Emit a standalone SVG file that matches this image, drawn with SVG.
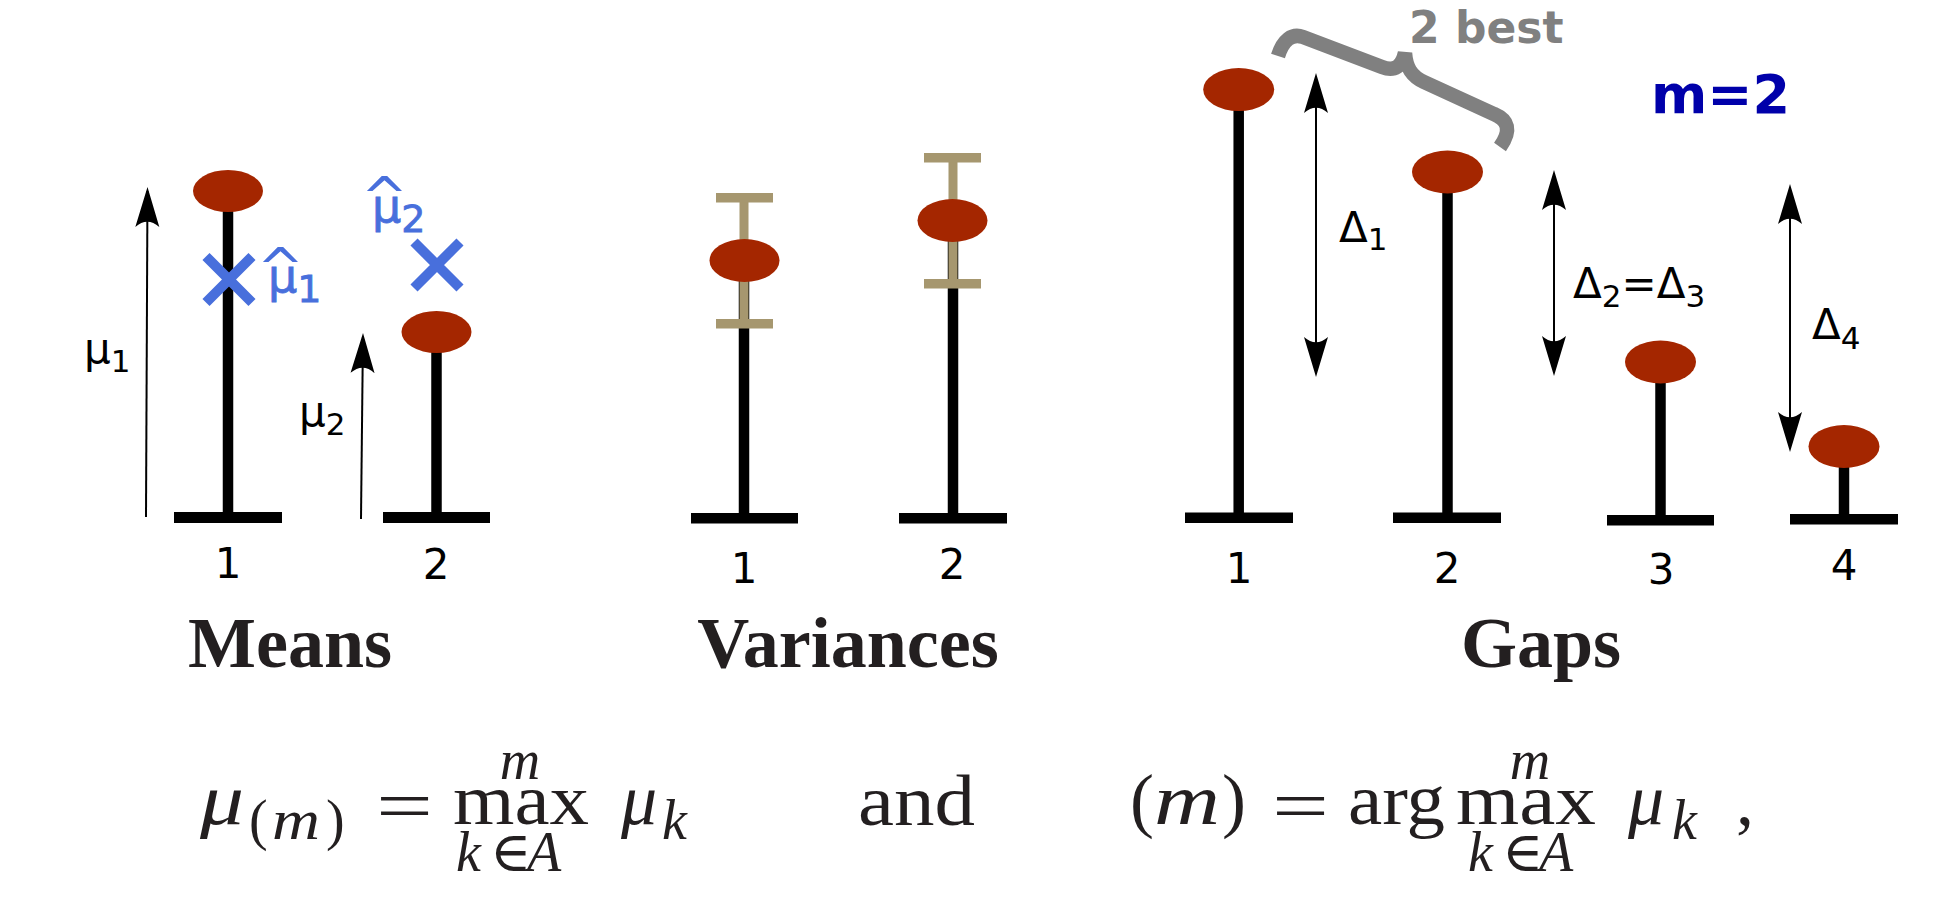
<svg xmlns="http://www.w3.org/2000/svg" width="1938" height="897" viewBox="0 0 1938 897">
<defs>
<marker id="ah" markerUnits="userSpaceOnUse" markerWidth="60" markerHeight="40" refX="0" refY="0" orient="auto-start-reverse" overflow="visible">
<path d="M4,0 L-36,-12 C-29,-4 -29,4 -36,12 Z" fill="#000"/>
</marker>
<style>
.stem{stroke:#000;stroke-width:10.5;fill:none}
.base{fill:#000}
.head{fill:#a42600}
.tan{fill:#a6976f}
.lbl{font-family:"DejaVu Sans",sans-serif;font-size:42px;fill:#000}
.num{font-family:"DejaVu Sans",sans-serif;font-size:42px;fill:#000;text-anchor:middle}
.sub{font-size:31px}
.title{font-family:"Liberation Serif",serif;font-weight:bold;font-size:72px;fill:#231f20;text-anchor:middle}
.blue{font-family:"DejaVu Sans",sans-serif;font-size:46px;fill:#486fdc;stroke:#486fdc;stroke-width:0.8}
.bsub{font-size:38px}
.hat{font-size:56px;stroke-width:0}
.cross{stroke:#486fdc;stroke-width:10;fill:none}
.arr{stroke:#000;stroke-width:2;fill:none;marker-end:url(#ah)}
.darr{stroke:#000;stroke-width:2;fill:none;marker-start:url(#ah);marker-end:url(#ah)}
.brace{stroke:#808080;stroke-width:14.5;fill:none}
.math{font-family:"Liberation Serif","DejaVu Serif",serif;fill:#231f20;font-size:72px}
.it{font-style:italic}
.scr{font-size:56px}
</style>
</defs>
<rect width="1938" height="897" fill="#fff"/>

<!-- Means -->
<g id="means-arm-1">
<line class="stem" x1="228" y1="191" x2="228" y2="515"/>
<rect class="base" x="174" y="512" width="108" height="11"/>
<ellipse class="head" cx="228" cy="191" rx="35" ry="21"/>
<path class="cross" d="M206,256.5 L252,302.5 M252,256.5 L206,302.5"/>
<text class="num" x="228" y="578">1</text>
</g>
<g id="means-arm-2">
<line class="stem" x1="436.5" y1="332" x2="436.5" y2="515"/>
<rect class="base" x="383" y="512" width="107" height="11"/>
<ellipse class="head" cx="436.5" cy="332" rx="35" ry="21"/>
<path class="cross" d="M414,242 L460,288 M460,242 L414,288"/>
<text class="num" x="436" y="579">2</text>
</g>
<g id="means-labels">
<text class="lbl" x="84" y="363">μ<tspan class="sub" y="372">1</tspan></text>
<text class="lbl" x="299" y="426">μ<tspan class="sub" y="435">2</tspan></text>
<text class="blue"><tspan class="hat" x="257" y="287">^</tspan><tspan x="268" y="292">μ</tspan><tspan class="bsub" y="302">1</tspan></text>
<text class="blue"><tspan class="hat" x="361" y="216">^</tspan><tspan x="372" y="222">μ</tspan><tspan class="bsub" y="232">2</tspan></text>
<text class="title" x="290" y="667">Means</text>
</g>

<!-- Variances -->
<g id="variances-arm-1">
<line class="stem" x1="744" y1="260" x2="744" y2="515"/>
<rect class="base" x="691" y="513" width="107" height="10.5"/>
<rect class="tan" x="739.5" y="197" width="9" height="127"/>
<rect class="tan" x="716" y="193" width="57" height="9.5"/>
<rect class="tan" x="716" y="319" width="57" height="9.5"/>
<ellipse class="head" cx="744.5" cy="260.5" rx="35" ry="21.5"/>
<text class="num" x="744" y="583">1</text>
</g>
<g id="variances-arm-2">
<line class="stem" x1="953" y1="220" x2="953" y2="515"/>
<rect class="base" x="899" y="513" width="108" height="10.5"/>
<rect class="tan" x="948.5" y="157" width="9" height="127"/>
<rect class="tan" x="924" y="153" width="57" height="9.5"/>
<rect class="tan" x="924" y="279" width="57" height="9.5"/>
<ellipse class="head" cx="952.5" cy="220.5" rx="35" ry="21.5"/>
<text class="num" x="952" y="579">2</text>
</g>
<text class="title" x="848" y="667">Variances</text>

<!-- Gaps -->
<g id="gaps-arm-1">
<line class="stem" x1="1238.7" y1="90" x2="1238.7" y2="515"/>
<rect class="base" x="1185" y="512.5" width="108" height="10.5"/>
<ellipse class="head" cx="1238.7" cy="89.6" rx="35.5" ry="21.5"/>
<text class="num" x="1239" y="583">1</text>
</g>
<g id="gaps-arm-2">
<line class="stem" x1="1447.5" y1="172" x2="1447.5" y2="515"/>
<rect class="base" x="1393" y="512.5" width="108" height="10.5"/>
<ellipse class="head" cx="1447.5" cy="172" rx="35.5" ry="21.5"/>
<text class="num" x="1447" y="583">2</text>
</g>
<g id="gaps-arm-3">
<line class="stem" x1="1660.5" y1="362" x2="1660.5" y2="518"/>
<rect class="base" x="1607" y="515" width="107" height="10.5"/>
<ellipse class="head" cx="1660.5" cy="362" rx="35.5" ry="21.5"/>
<text class="num" x="1661" y="584">3</text>
</g>
<g id="gaps-arm-4">
<line class="stem" x1="1844" y1="446" x2="1844" y2="517"/>
<rect class="base" x="1790" y="514" width="108" height="10.5"/>
<ellipse class="head" cx="1844" cy="446.5" rx="35.5" ry="21.5"/>
<text class="num" x="1844" y="580">4</text>
</g>
<g id="gaps-labels">
<text class="lbl" x="1339" y="242">Δ<tspan class="sub" y="250">1</tspan></text>
<text class="lbl" x="1573" y="298">Δ<tspan class="sub" y="307">2</tspan><tspan y="298">=Δ</tspan><tspan class="sub" y="307">3</tspan></text>
<text class="lbl" x="1812" y="339">Δ<tspan class="sub" y="349">4</tspan></text>
<text x="1409" y="43" font-family="DejaVu Sans, sans-serif" font-weight="bold" font-size="44" fill="#808080">2 best</text>
<text x="1651" y="113" font-family="DejaVu Sans, sans-serif" font-weight="bold" font-size="54" fill="#0000aa">m=2</text>
<text class="title" x="1541" y="667">Gaps</text>
</g>

<!-- connectors -->
<g id="connectors">
<line class="arr" x1="146" y1="517" x2="147.48" y2="191"/>
<line class="arr" x1="361" y1="519" x2="362.96" y2="337"/>
<line class="darr" x1="1316" y1="77" x2="1316" y2="373"/>
<line class="darr" x1="1554" y1="174" x2="1554" y2="372"/>
<line class="darr" x1="1790" y1="188" x2="1790" y2="448"/>
<path class="brace" d="M1278,56 C1283,40 1292,33 1303,37 L1382,67 C1395,72 1402,66 1405,53 C1406,67 1411,76 1424,82 L1494,114 C1508,120 1512,130 1500,147"/>
</g>

<!-- formula -->
<g id="formula">
<text class="math it" x="200" y="824" textLength="44" lengthAdjust="spacingAndGlyphs">μ</text>
<text class="math scr" y="839"><tspan x="249">(</tspan><tspan class="it" x="272" textLength="48" lengthAdjust="spacingAndGlyphs">m</tspan><tspan x="326">)</tspan></text>
<text class="math" x="376" y="830" textLength="57" lengthAdjust="spacingAndGlyphs">=</text>
<text class="math" x="453" y="824" textLength="136" lengthAdjust="spacingAndGlyphs">max</text>
<text class="math scr it" x="520" y="779" text-anchor="middle">m</text>
<text class="math scr" y="871"><tspan class="it" x="456">k</tspan><tspan x="490">∈</tspan><tspan class="it" x="527">A</tspan></text>
<text class="math it" x="621" y="824">μ<tspan class="scr" x="662" y="839">k</tspan></text>

<text class="math" x="858" y="825" textLength="117" lengthAdjust="spacingAndGlyphs">and</text>

<text class="math" y="824"><tspan x="1130">(</tspan><tspan class="it" x="1154" textLength="66" lengthAdjust="spacingAndGlyphs">m</tspan><tspan x="1222">)</tspan></text>
<text class="math" x="1272" y="830" textLength="57" lengthAdjust="spacingAndGlyphs">=</text>
<text class="math" x="1348" y="824" textLength="97" lengthAdjust="spacingAndGlyphs">arg</text>
<text class="math" x="1456" y="824" textLength="140" lengthAdjust="spacingAndGlyphs">max</text>
<text class="math scr it" x="1530" y="779" text-anchor="middle">m</text>
<text class="math scr" y="871"><tspan class="it" x="1468">k</tspan><tspan x="1502">∈</tspan><tspan class="it" x="1539">A</tspan></text>
<text class="math it" x="1628" y="824">μ<tspan class="scr" x="1672" y="839">k</tspan></text>
<text class="math" x="1736" y="824">,</text>
</g>
</svg>
